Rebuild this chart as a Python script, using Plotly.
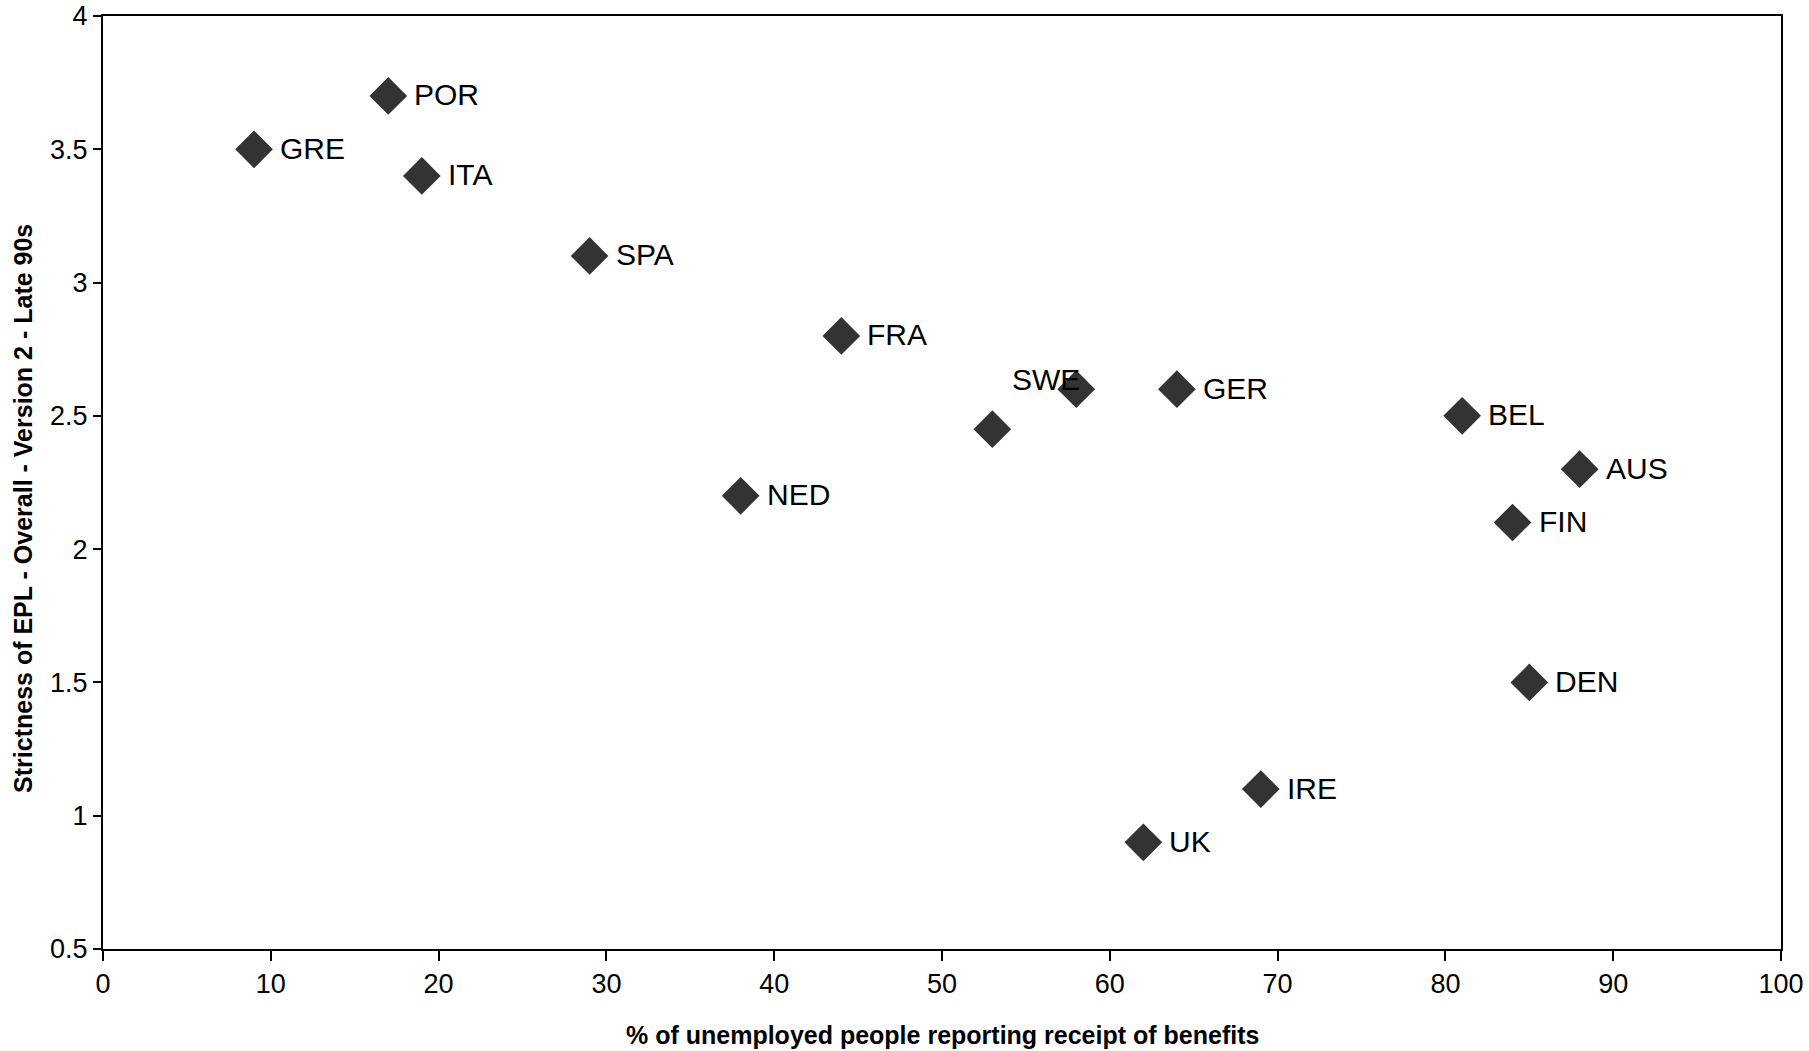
import plotly.graph_objects as go

countries = ["GRE", "POR", "ITA", "SPA", "FRA", "NED", "SWE", "", "GER", "BEL", "AUS", "FIN", "DEN", "IRE", "UK"]
benefits_pct = [9, 17, 19, 29, 44, 38, 53, 58, 64, 81, 88, 84, 85, 69, 62]
epl_strictness = [3.5, 3.7, 3.4, 3.1, 2.8, 2.2, 2.45, 2.6, 2.6, 2.5, 2.3, 2.1, 1.5, 1.1, 0.9]

x_ticks = [0, 10, 20, 30, 40, 50, 60, 70, 80, 90, 100]
y_ticks = [0.5, 1, 1.5, 2, 2.5, 3, 3.5, 4]

fig = go.Figure()
fig.add_trace(go.Scatter(
    x=benefits_pct, y=epl_strictness, mode="markers",
    marker=dict(symbol="diamond", size=29, color="#333333", line=dict(width=0)),
    hoverinfo="skip", showlegend=False, cliponaxis=False,
))

label_font = dict(family="Liberation Sans, Arial", size=30, color="#000")
annotations = []
for c, xv, yv in zip(countries, benefits_pct, epl_strictness):
    if not c:
        continue
    if c == "SWE":
        annotations.append(dict(x=xv, y=yv, xref="x", yref="y", text=c, showarrow=False,
                                xanchor="left", yanchor="middle", xshift=18, yshift=50,
                                font=label_font))
    else:
        annotations.append(dict(x=xv, y=yv, xref="x", yref="y", text=c, showarrow=False,
                                xanchor="left", yanchor="middle", xshift=24, yshift=1,
                                font=label_font))

title_font = dict(family="Liberation Sans, Arial", size=25, color="#000", weight="bold")
annotations.append(dict(
    x=-0.0477, y=0.4727, xref="paper", yref="paper", textangle=-90,
    text="Strictness of EPL - Overall - Version 2 - Late 90s", showarrow=False,
    xanchor="center", yanchor="middle", font=title_font,
))
annotations.append(dict(
    x=0.5, y=-0.0922, xref="paper", yref="paper",
    text="% of unemployed people reporting receipt of benefits", showarrow=False,
    xanchor="center", yanchor="middle", font=title_font,
))

fig.update_layout(
    width=1809, height=1051,
    margin=dict(l=103, r=28, t=16, b=102),
    paper_bgcolor="white", plot_bgcolor="white",
    annotations=annotations,
    xaxis=dict(
        range=[0, 100], tickvals=x_ticks, ticktext=[str(v) for v in x_ticks],
        showgrid=False, zeroline=False, showline=True, linecolor="#000", linewidth=2,
        mirror=True, ticks="outside", ticklen=10, tickwidth=2, tickcolor="#000",
        tickfont=dict(family="Liberation Sans, Arial", size=27, color="#000"),
        automargin=False,
    ),
    yaxis=dict(
        range=[0.5, 4], tickvals=y_ticks, ticktext=["0.5", "1", "1.5", "2", "2.5", "3", "3.5", "4"],
        showgrid=False, zeroline=False, showline=True, linecolor="#000", linewidth=2,
        mirror=True, ticks="outside", ticklen=8, tickwidth=2, tickcolor="#000",
        tickfont=dict(family="Liberation Sans, Arial", size=27, color="#000"),
        automargin=False,
    ),
)

fig.write_html(
    "out.html",
    config={"displayModeBar": False},
    post_script="document.body.style.margin='0px'; document.body.style.overflow='hidden';",
)
